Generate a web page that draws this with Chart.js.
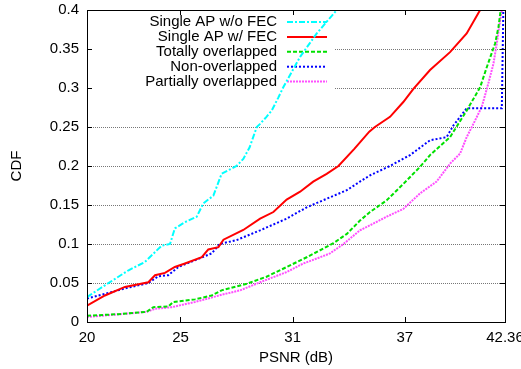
<!DOCTYPE html>
<html>
<head>
<meta charset="utf-8">
<script src="https://cdn.jsdelivr.net/npm/chart.js"></script>
<style>
  html, body { margin: 0; padding: 0; background: #fff; }
  #wrap { width: 521px; height: 369px; }
</style>
</head>
<body>
<div id="wrap"><canvas id="c" width="521" height="369"></canvas></div>
<script>
// Ось X и Y
const xTicks = [20, 25, 31, 37, 42.36];
const yTicks = [0, 0.05, 0.1, 0.15, 0.2, 0.25, 0.3, 0.35, 0.4];

const seriesNames = ["Single AP w/o FEC", "Single AP w/ FEC", "Totally overlapped", "Non-overlapped", "Partially overlapped"];

// Single AP w/o FEC
const noFecX = [20, 20.96, 22.2, 23.1, 24.0, 24.44, 24.7, 25.24, 25.87, 26.22, 26.76, 27.2, 28.0, 28.36, 28.7, 29.08, 29.26, 29.6, 29.88, 30.24, 30.5, 31.4, 32.29, 33.36];
const noFecY = [0.032, 0.047, 0.066, 0.077, 0.098, 0.10, 0.12, 0.128, 0.135, 0.152, 0.162, 0.19, 0.20, 0.209, 0.224, 0.25, 0.254, 0.263, 0.271, 0.288, 0.301, 0.34, 0.37, 0.40];

// Single AP w/ FEC
const fecX = [20, 20.96, 22.03, 23.28, 23.64, 24.17, 24.7, 25.24, 26.14, 26.49, 27.03, 27.3, 28.36, 29.26, 29.97, 30.68, 31.4, 32.1, 32.82, 33.45, 34.3, 35.1, 35.4, 36.21, 36.92, 37.46, 38.35, 39.42, 40.31, 41.03];
const fecY = [0.021, 0.034, 0.045, 0.051, 0.060, 0.063, 0.0705, 0.075, 0.083, 0.093, 0.096, 0.1055, 0.118, 0.1325, 0.141, 0.157, 0.167, 0.18, 0.19, 0.20, 0.222, 0.244, 0.25, 0.263, 0.282, 0.299, 0.323, 0.346, 0.37, 0.40];

// Totally overlapped
const totalX = [20, 21.68, 23.19, 23.55, 24.35, 24.62, 25.78, 26.67, 27.2, 28.54, 29.6, 30.68, 31.75, 32.47, 33.18, 33.9, 34.6, 35.14, 36.03, 36.92, 37.82, 38.35, 39.42, 40.31, 41.03, 41.39, 41.83, 42.01, 42.13];
const totalY = [0.008, 0.010, 0.013, 0.019, 0.020, 0.0257, 0.029, 0.034, 0.0406, 0.049, 0.058, 0.0705, 0.083, 0.092, 0.101, 0.113, 0.130, 0.141, 0.156, 0.177, 0.199, 0.214, 0.237, 0.271, 0.301, 0.327, 0.357, 0.378, 0.40];

// Non-overlapped
const nonX = [20, 20.96, 22.03, 23.28, 23.81, 24.35, 24.89, 25.96, 26.67, 27.1, 28.0, 29.26, 30.68, 31.75, 32.82, 33.9, 34.6, 35.14, 36.2, 37.28, 38.35, 39.24, 39.6, 39.96, 40.31, 42.19, 42.27];
const nonY = [0.030, 0.036, 0.043, 0.05, 0.0585, 0.06, 0.0705, 0.081, 0.088, 0.10, 0.105, 0.1175, 0.1325, 0.147, 0.158, 0.169, 0.18, 0.188, 0.2, 0.214, 0.233, 0.237, 0.252, 0.263, 0.274, 0.274, 0.40];

// Partially overlapped
const partX = [20, 23.19, 23.64, 24.53, 25.78, 27.3, 28.19, 29.26, 30.68, 31.57, 32.47, 33.0, 33.72, 34.6, 35.14, 36.03, 36.92, 37.82, 38.7, 39.42, 39.96, 40.31, 40.67, 41.12, 41.47, 41.74, 41.92, 42.1, 42.19];
const partY = [0.0064, 0.013, 0.017, 0.019, 0.0257, 0.0355, 0.0406, 0.051, 0.064, 0.075, 0.083, 0.088, 0.10, 0.1175, 0.124, 0.135, 0.145, 0.165, 0.18, 0.203, 0.216, 0.237, 0.254, 0.276, 0.306, 0.331, 0.357, 0.387, 0.40];

const FONT = '"Liberation Sans", Arial, sans-serif';

function pts(xs, ys) {
    return xs.map((x, i) => ({x: x, y: ys[i]}));
}

function ds(label, xs, ys, color, dash) {
    return {
        label: label,
        data: pts(xs, ys),
        showLine: true,
        borderColor: color,
        backgroundColor: color,
        borderWidth: 2,
        borderDash: dash,
        pointRadius: 0,
        fill: false,
        tension: 0
    };
}

const datasets = [
    ds(seriesNames[0], noFecX, noFecY, '#00ffff', [6, 2, 2, 2]),
    ds(seriesNames[1], fecX, fecY, '#ff0000', []),
    ds(seriesNames[2], totalX, totalY, '#00e000', [4, 2]),
    ds(seriesNames[3], nonX, nonY, '#0000ff', [2, 2]),
    ds(seriesNames[4], partX, partY, '#ff50ff', [2, 1])
];

// Легенда внутри графика, как в gnuplot
const keyPlugin = {
    id: 'gnuKey',
    beforeDatasetsDraw(chart) {
        const {ctx, chartArea: a} = chart;
        ctx.save();
        ctx.fillStyle = '#fff';
        ctx.fillRect(a.left + 1, a.top + 1, 247, 80);
        ctx.font = '15px ' + FONT;
        ctx.textAlign = 'right';
        ctx.textBaseline = 'middle';
        chart.data.datasets.forEach((d, i) => {
            const y = a.top + 12 + i * 14.9;
            ctx.fillStyle = '#000';
            ctx.fillText(d.label, a.left + 190, y);
            ctx.strokeStyle = d.borderColor;
            ctx.lineWidth = 2;
            ctx.setLineDash(d.borderDash);
            ctx.beginPath();
            ctx.moveTo(a.left + 200, y);
            ctx.lineTo(a.left + 240, y);
            ctx.stroke();
        });
        ctx.restore();
    },
    afterDraw(chart) {
        const {ctx, chartArea: a, scales} = chart;
        ctx.save();
        ctx.strokeStyle = '#000';
        ctx.lineWidth = 1;
        ctx.setLineDash([]);
        ctx.beginPath();
        xTicks.forEach(v => {
            const px = Math.round(scales.x.getPixelForValue(v)) + 0.5;
            ctx.moveTo(px, a.bottom); ctx.lineTo(px, a.bottom - 5);
            ctx.moveTo(px, a.top); ctx.lineTo(px, a.top + 5);
        });
        yTicks.forEach(v => {
            const py = Math.round(scales.y.getPixelForValue(v)) + 0.5;
            ctx.moveTo(a.left, py); ctx.lineTo(a.left + 5, py);
            ctx.moveTo(a.right, py); ctx.lineTo(a.right - 5, py);
        });
        ctx.stroke();
        ctx.strokeRect(Math.round(a.left) + 0.5, Math.round(a.top) + 0.5, Math.round(a.right - a.left), Math.round(a.bottom - a.top));
        ctx.restore();
    }
};

new Chart(document.getElementById('c').getContext('2d'), {
    type: 'scatter',
    data: {datasets: datasets},
    options: {
        responsive: false,
        animation: false,
        layout: {padding: {left: 0, right: 16, top: 10, bottom: 0}},
        plugins: {legend: {display: false}, tooltip: {enabled: false}},
        scales: {
            x: {
                type: 'linear',
                min: 20,
                max: 42.36,
                afterBuildTicks: s => { s.ticks = xTicks.map(v => ({value: v})); },
                afterFit: s => { s.height = 47; s.paddingLeft = 0; s.paddingRight = 0; },
                ticks: {
                    autoSkip: false,
                    maxRotation: 0,
                    padding: 7,
                    color: '#000',
                    font: {family: FONT, size: 15},
                    callback: v => String(v)
                },
                grid: {display: false, drawTicks: false},
                border: {display: false},
                title: {display: true, text: 'PSNR (dB)', color: '#000', font: {family: FONT, size: 15}, padding: {top: 4, bottom: 2}}
            },
            y: {
                min: 0,
                max: 0.4,
                afterBuildTicks: s => { s.ticks = yTicks.map(v => ({value: v})); },
                afterFit: s => { s.width = 87; s.paddingTop = 0; s.paddingBottom = 0; },
                ticks: {
                    padding: 8,
                    color: '#000',
                    font: {family: FONT, size: 15},
                    callback: v => String(Math.round(v * 100) / 100)
                },
                grid: {
                    drawTicks: false,
                    color: ctx => (ctx.tick && (ctx.tick.value === 0 || ctx.tick.value === 0.4)) ? 'rgba(0,0,0,0)' : '#777',
                    lineWidth: 1
                },
                border: {display: false, dash: [1, 1]},
                title: {display: true, text: 'CDF', color: '#000', font: {family: FONT, size: 15}, padding: {top: 8, bottom: 0}}
            }
        }
    },
    plugins: [keyPlugin]
});
</script>
</body>
</html>
